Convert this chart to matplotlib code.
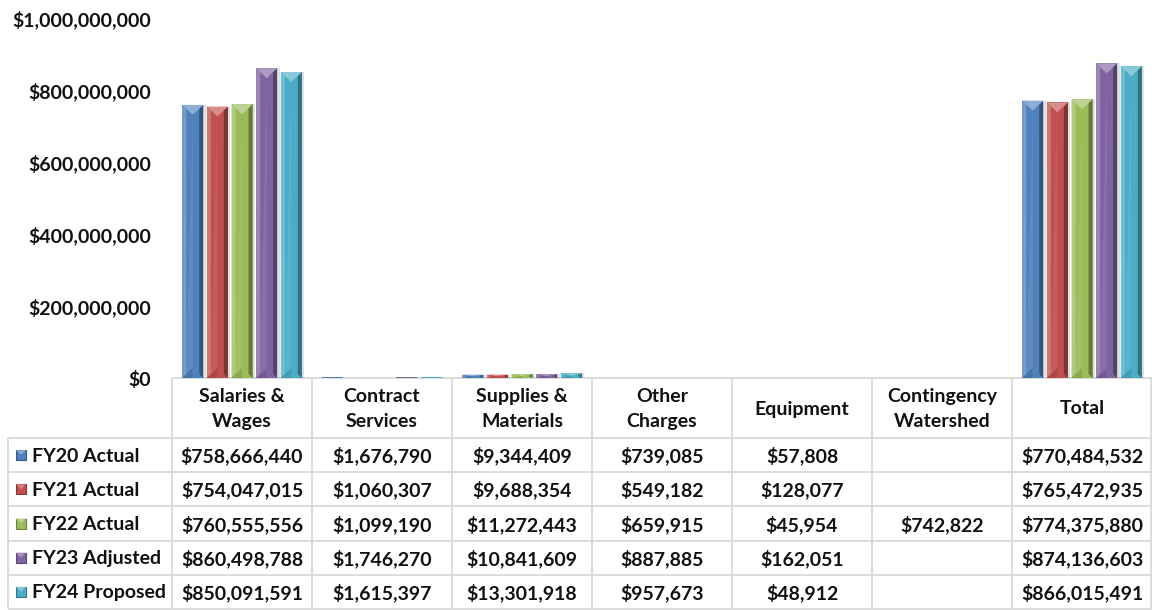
import matplotlib
matplotlib.use("Agg")
import matplotlib.pyplot as plt
import matplotlib.colors as mcolors
import matplotlib.ticker as mticker
from matplotlib.patches import Rectangle

categories = ["Salaries &\nWages", "Contract\nServices", "Supplies &\nMaterials",
              "Other\nCharges", "Equipment", "Contingency\nWatershed", "Total"]
series_names = ["FY20 Actual", "FY21 Actual", "FY22 Actual", "FY23 Adjusted", "FY24 Proposed"]
fy20 = [758666440, 1676790, 9344409, 739085, 57808, None, 770484532]
fy21 = [754047015, 1060307, 9688354, 549182, 128077, None, 765472935]
fy22 = [760555556, 1099190, 11272443, 659915, 45954, 742822, 774375880]
fy23 = [860498788, 1746270, 10841609, 887885, 162051, None, 874136603]
fy24 = [850091591, 1615397, 13301918, 957673, 48912, None, 866015491]
series_values = [fy20, fy21, fy22, fy23, fy24]
y_ticks = [0, 200000000, 400000000, 600000000, 800000000, 1000000000]

COLORS = ["#4f81bd", "#c0504d", "#9bbb59", "#8064a2", "#4bacc6"]
GRID = "#d9d9d9"
INK = "#111111"
FONT = "Lato"

W, H = 1152, 610
AX_L, AX_TOP, AX_BOTTOM = 172, 18, 378
COL_W = 140
ROW_TOP, ROW_H = 438, 34.2
LABEL_L = 8

plt.rcParams.update({"font.family": FONT, "font.weight": "bold", "font.size": 14})


def mix(color, other, amount):
    c = mcolors.to_rgb(color)
    o = mcolors.to_rgb(other)
    return tuple(ci + (oi - ci) * amount for ci, oi in zip(c, o))


fig = plt.figure(figsize=(W / 100, H / 100), dpi=100)
ax = fig.add_axes([AX_L / W, (H - AX_BOTTOM) / H, len(categories) * COL_W / W,
                   (AX_BOTTOM - AX_TOP) / H])
ax.set_xlim(0, len(categories))
ax.set_ylim(0, y_ticks[-1])

# size of one pixel in data units (used for the bevel effect)
px_x = len(categories) / (len(categories) * COL_W)
px_y = y_ticks[-1] / (AX_BOTTOM - AX_TOP)

bar_w, step = 0.15, 0.176
n = len(series_names)
for s, (vals, color) in enumerate(zip(series_values, COLORS)):
    xs = [i + 0.5 + (s - (n - 1) / 2) * step for i in range(len(categories))]
    hs = [v if v is not None else 0 for v in vals]
    # soft drop shadow, only where the bar is tall enough to see
    sh = [h if h > 3 * px_y else 0 for h in hs]
    ax.bar([x + 2.5 * px_x for x in xs], sh, width=bar_w, color="#000000",
           alpha=0.12, zorder=1)
    bars = ax.bar(xs, hs, width=bar_w, color=color, zorder=2)
    for rect in bars:
        h = rect.get_height()
        if h <= 3 * px_y:
            continue
        l = rect.get_x()
        r = l + rect.get_width()
        cx = (l + r) / 2
        bx = 4 * px_x
        by = min(4 * px_y, h / 2)
        tri = min(10 * px_y, h / 2)
        ax.fill([l, l + bx, l + bx, l], [0, by, h - by, h],
                color=mix(color, "white", 0.22), lw=0, zorder=3)
        ax.fill([r, r - bx, r - bx, r], [0, by, h - by, h],
                color=mix(color, "black", 0.35), lw=0, zorder=3)
        ax.fill([l + bx, cx, cx], [by, by, h - by],
                color=mix(color, "white", 0.08), lw=0, zorder=3)
        ax.fill([l, cx, cx], [0, tri, 0],
                color=mix(color, "black", 0.1), lw=0, zorder=4)
        ax.fill([l, r, cx], [h, h, h - tri],
                color=mix(color, "white", 0.35), lw=0, zorder=4)

ax.set_xticks([])
ax.set_yticks(y_ticks)
ax.yaxis.set_major_formatter(mticker.FuncFormatter(lambda v, p: f"${v:,.0f}"))
ax.tick_params(axis="y", length=0, pad=15, labelsize=14, labelcolor=INK)
for sp in ax.spines.values():
    sp.set_visible(False)
ax.patch.set_alpha(0)

# data table drawn in pixel coordinates
tab = fig.add_axes([0, 0, 1, 1], zorder=-1)
tab.set_xlim(0, W)
tab.set_ylim(H, 0)
tab.axis("off")

col_edges = [AX_L + COL_W * i for i in range(len(categories) + 1)]
col_edges[-1] = W - 1
row_edges = [ROW_TOP + ROW_H * j for j in range(n + 1)]
lw = 1.3
tab.hlines(AX_BOTTOM, AX_L, W, color=GRID, lw=lw)
for y in row_edges:
    tab.hlines(y, LABEL_L, W, color=GRID, lw=lw)
for x in col_edges:
    tab.vlines(x, AX_BOTTOM, row_edges[-1], color=GRID, lw=lw)
tab.vlines(LABEL_L, ROW_TOP, row_edges[-1], color=GRID, lw=lw)

for i, cat in enumerate(categories):
    cx = AX_L + COL_W * (i + 0.5)
    tab.text(cx, (AX_BOTTOM + ROW_TOP) / 2 + 1, cat, ha="center", va="center",
             color=INK, linespacing=1.6)

for j, (name, vals, color) in enumerate(zip(series_names, series_values, COLORS)):
    cy = ROW_TOP + ROW_H * (j + 0.5)
    tab.add_patch(Rectangle((16, cy - 5), 10, 10, facecolor=color,
                            edgecolor=mix(color, "black", 0.3), lw=0.8))
    tab.fill([16, 21, 26], [cy - 5, cy, cy - 5], color=mix(color, "white", 0.3), lw=0)
    tab.text(32, cy + 1, name, ha="left", va="center", color=INK)
    for i, v in enumerate(vals):
        if v is None:
            continue
        tab.text(AX_L + COL_W * (i + 0.5), cy + 1, f"${v:,}", ha="center",
                 va="center", color=INK)

fig.savefig("out.png", dpi=100, facecolor="white")
